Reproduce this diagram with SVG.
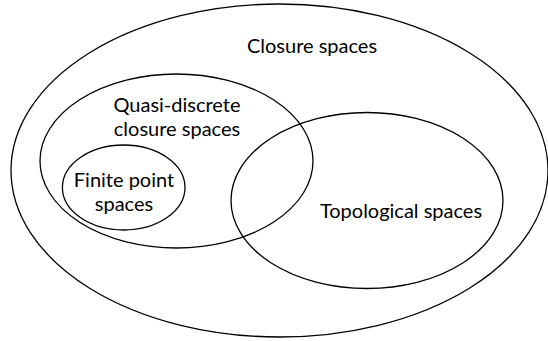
<svg xmlns="http://www.w3.org/2000/svg" width="548" height="341" viewBox="0 0 548 341">
<style>
.set{fill:none;stroke:#000;stroke-width:1.3}
.lbl{font-family:Lato,"Open Sans","Liberation Sans",sans-serif;font-size:20px;fill:#000;text-anchor:middle}
</style>
<rect width="548" height="341" fill="#fff"/>
<g id="closure">
<ellipse class="set" cx="279.5" cy="170.5" rx="268.5" ry="166.5"/>
<text class="lbl" x="312" y="53">Closure spaces</text>
</g>
<g id="quasi">
<ellipse class="set" cx="176.5" cy="161" rx="136.5" ry="87"/>
<text class="lbl" x="177" y="112">Quasi-discrete</text>
<text class="lbl" x="177" y="136">closure spaces</text>
</g>
<g id="finite">
<ellipse class="set" cx="123.7" cy="187.5" rx="61.3" ry="42.5"/>
<text class="lbl" x="124" y="187">Finite point</text>
<text class="lbl" x="124" y="211">spaces</text>
</g>
<g id="topological">
<ellipse class="set" cx="367" cy="200.5" rx="136" ry="88"/>
<text class="lbl" x="401" y="218">Topological spaces</text>
</g>
<g id="connectors"/>
</svg>
